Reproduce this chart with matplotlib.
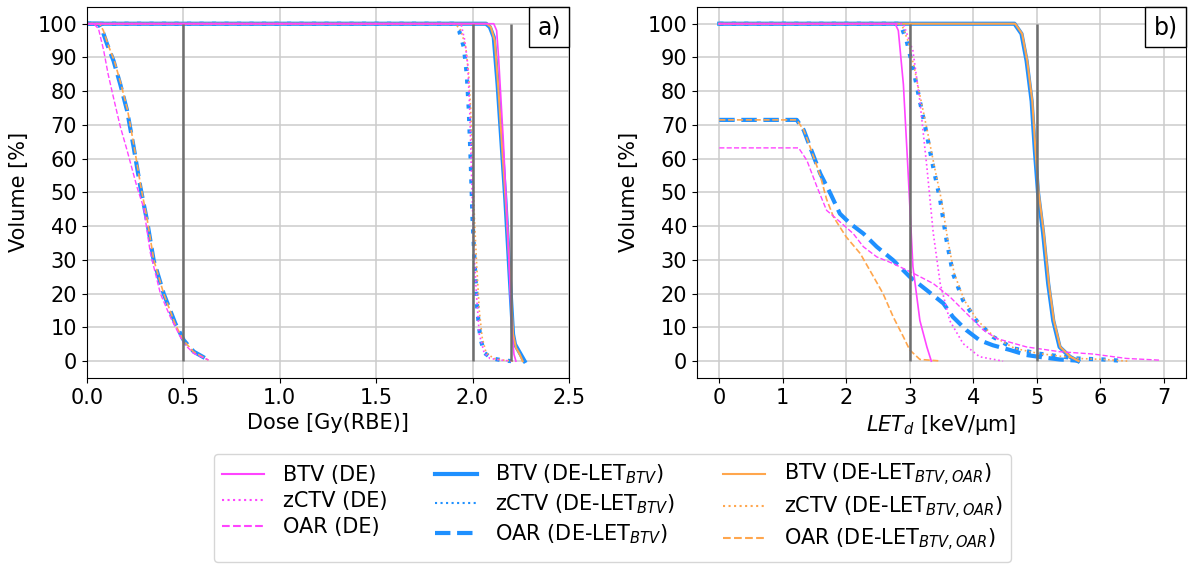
import matplotlib
matplotlib.use("Agg")
import matplotlib.pyplot as plt
from matplotlib.lines import Line2D
from matplotlib.offsetbox import AnchoredText

# ---- panel a: dose-volume histograms ----
dose_btv_de_x = [0, 2.11, 2.125, 2.135, 2.16, 2.185, 2.205, 2.215, 2.225]
dose_btv_de_y = [100, 100, 98, 90, 65, 35, 8, 2, 0]
dose_btv_let_x = [0, 2.07, 2.09, 2.11, 2.13, 2.15, 2.17, 2.19, 2.21, 2.22, 2.24, 2.26, 2.27]
dose_btv_let_y = [100, 100, 99, 96, 82, 65, 48, 28, 8, 5, 3, 1, 0]
dose_btv_oar_x = [0, 2.075, 2.095, 2.115, 2.135, 2.155, 2.175, 2.195, 2.21, 2.225, 2.245, 2.26]
dose_btv_oar_y = [100, 100, 99, 95, 80, 62, 45, 25, 8, 4, 2, 0]

dose_zctv_de_x = [0, 1.94, 1.96, 1.975, 1.985, 1.995, 2.005, 2.02, 2.035, 2.06, 2.09, 2.15, 2.2]
dose_zctv_de_y = [100, 100, 95, 88, 75, 55, 35, 20, 8, 2.5, 0.8, 0.3, 0]
dose_zctv_let_x = [0, 1.90, 1.93, 1.955, 1.97, 1.98, 1.99, 2.0, 2.012, 2.025, 2.04, 2.06, 2.1, 2.15, 2.2]
dose_zctv_let_y = [100, 100, 98, 93, 85, 75, 60, 42, 28, 15, 7, 2.5, 0.8, 0.3, 0]
dose_zctv_oar_x = [0, 1.91, 1.94, 1.965, 1.98, 1.99, 2.0, 2.01, 2.022, 2.035, 2.05, 2.07, 2.11, 2.16, 2.21]
dose_zctv_oar_y = [100, 100, 98, 93, 85, 75, 60, 42, 28, 15, 7, 2.5, 0.8, 0.3, 0]

dose_oar_de_x = [0, 0.035, 0.06, 0.087, 0.11, 0.138, 0.173, 0.208, 0.26, 0.294, 0.329, 0.381,
                 0.433, 0.502, 0.554, 0.631]
dose_oar_de_y = [100, 100, 98.5, 92, 85, 78, 69.5, 62.5, 51.5, 45.5, 32, 20, 13, 5.2, 2.3, 0.3]
dose_oar_let_x = [0, 0.06, 0.08, 0.104, 0.138, 0.173, 0.208, 0.242, 0.277, 0.311, 0.346, 0.398,
                  0.458, 0.502, 0.554, 0.631]
dose_oar_let_y = [100, 100, 98, 94, 89, 82, 74.3, 63.5, 51.6, 41.8, 29.9, 20, 11.2, 6.2, 2.8, 0.3]
dose_oar_oar_x = [0, 0.065, 0.085, 0.108, 0.142, 0.177, 0.211, 0.245, 0.28, 0.313, 0.347, 0.398,
                  0.456, 0.5, 0.552, 0.63]
dose_oar_oar_y = [100, 100, 98, 94, 89, 82, 74.3, 63.5, 51.6, 41.8, 29.9, 20, 11.2, 6.2, 2.8, 0.3]

# ---- panel b: LETd-volume histograms ----
let_btv_de_x = [0, 2.77, 2.82, 2.9, 2.97, 3.05, 3.16, 3.27, 3.34]
let_btv_de_y = [100, 100, 98, 82, 57.5, 28, 12, 4.2, 0]
let_btv_let_x = [0, 4.65, 4.76, 4.84, 4.92, 4.97, 5.02, 5.1, 5.18, 5.26, 5.36, 5.52, 5.65]
let_btv_let_y = [100, 100, 97, 89, 77, 62.5, 50, 38, 23, 12, 4.2, 1.3, 0]
let_btv_oar_x = [0, 4.66, 4.77, 4.85, 4.93, 4.98, 5.03, 5.11, 5.19, 5.27, 5.37, 5.53, 5.66]
let_btv_oar_y = [100, 100, 97, 89, 77, 62.5, 50, 38, 23, 12, 4.2, 1.3, 0]

let_zctv_de_x = [0, 2.9, 3.05, 3.16, 3.27, 3.37, 3.48, 3.63, 3.84, 4.1, 4.47]
let_zctv_de_y = [100, 100, 92, 77, 57.5, 38, 23, 12, 5.2, 1.3, 0]
let_zctv_let_x = [0, 2.85, 2.95, 3.05, 3.16, 3.27, 3.37, 3.48, 3.58, 3.68, 3.84, 4.05, 4.31,
                  4.63, 5.0, 5.62, 6.04, 6.41]
let_zctv_let_y = [100, 100, 95, 87, 77, 67, 57.5, 47.7, 35.8, 26, 18, 12, 7.2, 3.8, 2.3, 0.8, 0.5, 0]
let_zctv_oar_x = [0, 2.87, 2.97, 3.07, 3.18, 3.29, 3.39, 3.5, 3.6, 3.7, 3.86, 4.07, 4.33,
                  4.65, 5.02, 5.64, 6.06, 6.43]
let_zctv_oar_y = [100, 100, 95, 87, 77, 67, 57.5, 47.7, 35.8, 26, 18, 12, 7.2, 3.8, 2.3, 0.8, 0.5, 0]

let_oar_de_x = [0, 1.25, 1.38, 1.54, 1.69, 1.9, 2.11, 2.27, 2.48, 2.74, 3.06, 3.37, 3.63, 3.95,
                4.16, 4.37, 4.84, 5.36, 5.89, 6.41, 6.93]
let_oar_de_y = [63.2, 63.2, 59.5, 51.6, 44.7, 41.3, 37.8, 33.9, 30.9, 28.9, 26, 23, 19.1, 13.1,
                9.2, 6.7, 4.2, 2.8, 2.1, 0.8, 0.3]
let_oar_let_x = [0, 1.22, 1.33, 1.43, 1.59, 1.75, 1.9, 2.06, 2.27, 2.48, 2.74, 3.0, 3.27, 3.53,
                 3.68, 3.89, 4.1, 4.31, 4.58, 4.84, 5.1, 5.36, 5.68]
let_oar_let_y = [71.5, 71.5, 68.5, 63.5, 55.6, 49.7, 43.7, 40.8, 37.8, 33.9, 29.9, 25, 21, 17.1,
                 13.1, 9.2, 6.2, 4.7, 3.3, 1.8, 1.1, 0.5, 0.1]
let_oar_oar_x = [0, 1.22, 1.33, 1.43, 1.59, 1.69, 1.8, 2.0, 2.22, 2.43, 2.58, 2.74, 2.9, 3.0,
                 3.16, 3.45]
let_oar_oar_y = [71.5, 71.5, 68.5, 63.5, 55, 48, 42.7, 36.8, 31.9, 25, 20, 13.1, 7.2, 3.3, 0.5, 0.1]

# reference lines
dose_marks = [0.5, 2.0, 2.2]
let_marks = [3, 5]

legend_labels = [
    "BTV (DE)", "zCTV (DE)", "OAR (DE)",
    "BTV (DE-LET$_{BTV}$)", "zCTV (DE-LET$_{BTV}$)", "OAR (DE-LET$_{BTV}$)",
    "BTV (DE-LET$_{BTV,OAR}$)", "zCTV (DE-LET$_{BTV,OAR}$)", "OAR (DE-LET$_{BTV,OAR}$)",
]

MAGENTA = "#ff44ff"
BLUE = "#1e90ff"
ORANGE = "#ffa64d"
DOTS = (0, (1, 2))

plt.rcParams.update({"font.family": "DejaVu Sans", "font.size": 15})

fig = plt.figure(figsize=(11.96, 5.71), dpi=100)
ax_a = fig.add_axes([0.0727, 0.338, 0.403, 0.650])
ax_b = fig.add_axes([0.5828, 0.338, 0.4088, 0.650])


def draw_panel(ax, curves, marks):
    # curves: list of (x, y, color, linestyle, lw)
    for x, y, color, ls, lw in curves:
        ax.plot(x, y, color=color, linestyle=ls, linewidth=lw)
    ax.vlines(marks, 0, 100, color="#6e6e6e", linewidth=1.8, zorder=5)
    ax.set_ylim(-5, 105)
    ax.set_yticks(range(0, 101, 10))
    ax.set_ylabel("Volume [%]", labelpad=6)
    ax.grid(True, color="#cccccc", linewidth=1.1)
    ax.set_axisbelow(True)


draw_panel(ax_a, [
    (dose_btv_let_x, dose_btv_let_y, BLUE, "-", 3),
    (dose_zctv_let_x, dose_zctv_let_y, BLUE, DOTS, 3),
    (dose_oar_let_x, dose_oar_let_y, BLUE, "--", 3),
    (dose_btv_oar_x, dose_btv_oar_y, ORANGE, "-", 1.5),
    (dose_zctv_oar_x, dose_zctv_oar_y, ORANGE, ":", 1.2),
    (dose_oar_oar_x, dose_oar_oar_y, ORANGE, "--", 1.2),
    (dose_btv_de_x, dose_btv_de_y, MAGENTA, "-", 1.2),
    (dose_zctv_de_x, dose_zctv_de_y, MAGENTA, ":", 1.2),
    (dose_oar_de_x, dose_oar_de_y, MAGENTA, "--", 1.0),
], dose_marks)
ax_a.set_xlim(0, 2.5)
ax_a.set_xticks([0, 0.5, 1.0, 1.5, 2.0, 2.5])
ax_a.set_xlabel("Dose [Gy(RBE)]")

draw_panel(ax_b, [
    (let_btv_let_x, let_btv_let_y, BLUE, "-", 3),
    (let_zctv_let_x, let_zctv_let_y, BLUE, DOTS, 3),
    (let_oar_let_x, let_oar_let_y, BLUE, "--", 3),
    (let_btv_oar_x, let_btv_oar_y, ORANGE, "-", 1.5),
    (let_zctv_oar_x, let_zctv_oar_y, ORANGE, ":", 1.2),
    (let_oar_oar_x, let_oar_oar_y, ORANGE, "--", 1.2),
    (let_btv_de_x, let_btv_de_y, MAGENTA, "-", 1.2),
    (let_zctv_de_x, let_zctv_de_y, MAGENTA, ":", 1.2),
    (let_oar_de_x, let_oar_de_y, MAGENTA, "--", 1.0),
], let_marks)
ax_b.set_xlim(-0.35, 7.35)
ax_b.set_xticks(range(0, 8))
ax_b.set_xlabel("$LET_d$ [keV/µm]")

for ax, tag in ((ax_a, "a)"), (ax_b, "b)")):
    at = AnchoredText(tag, loc="upper right", borderpad=0, pad=0.35,
                      prop=dict(size=17), frameon=True)
    at.patch.set_edgecolor("black")
    at.patch.set_linewidth(1.0)
    at.set_zorder(10)
    ax.add_artist(at)

handles = [
    Line2D([], [], color=MAGENTA, linestyle="-", linewidth=1.5),
    Line2D([], [], color=MAGENTA, linestyle=":", linewidth=1.5),
    Line2D([], [], color=MAGENTA, linestyle="--", linewidth=1.5),
    Line2D([], [], color=BLUE, linestyle="-", linewidth=3),
    Line2D([], [], color=BLUE, linestyle=":", linewidth=1.5),
    Line2D([], [], color=BLUE, linestyle="--", linewidth=3),
    Line2D([], [], color=ORANGE, linestyle="-", linewidth=1.5),
    Line2D([], [], color=ORANGE, linestyle=":", linewidth=1.5),
    Line2D([], [], color=ORANGE, linestyle="--", linewidth=1.5),
]
fig.legend(handles, legend_labels, loc="upper center", bbox_to_anchor=(0.512, 0.205),
           ncol=3, fontsize=15, frameon=True, handlelength=2.0, handletextpad=0.9,
           columnspacing=2.3, labelspacing=0.3, borderaxespad=0.0)

fig.savefig("out.png", dpi=100)
